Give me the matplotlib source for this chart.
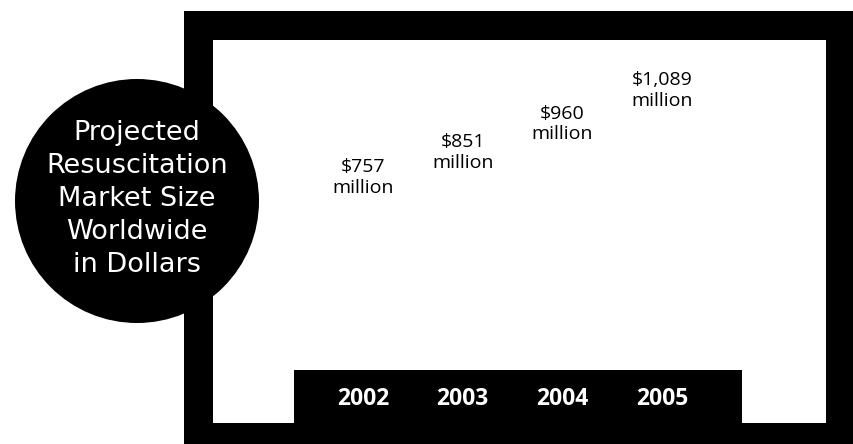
import matplotlib
matplotlib.use("Agg")
import matplotlib.pyplot as plt
from matplotlib.patches import Rectangle, Circle

years = ["2002", "2003", "2004", "2005"]
market_size = [757, 851, 960, 1089]  # millions of dollars
value_labels = ["$757\nmillion", "$851\nmillion", "$960\nmillion", "$1,089\nmillion"]
title = "Projected\nResuscitation\nMarket Size\nWorldwide\nin Dollars"

W, H = 854, 444
fig = plt.figure(figsize=(W / 100, H / 100), dpi=100)

# background layer in pixel coordinates: frame, year band, circle
bg = fig.add_axes([0, 0, 1, 1])
bg.set_xlim(0, W)
bg.set_ylim(H, 0)
bg.axis("off")
bg.add_patch(Rectangle((184, 11), W - 184, H - 11, color="black", lw=0))
bg.add_patch(Rectangle((213, 40), 826 - 213, 423 - 40, color="white", lw=0))
bg.add_patch(Rectangle((294, 370), 742 - 294, 423 - 370, color="black", lw=0))
bg.add_patch(Circle((137, 201), 122, color="black", lw=0, zorder=5))
bg.text(137, 199, title, color="white", fontsize=19.5, family="DejaVu Sans",
        ha="center", va="center", linespacing=1.36, zorder=6)

# data layer: value labels placed by market size, year labels as ticks
ax = fig.add_axes([212 / W, 1 - 375 / H, (826 - 212) / W, (375 - 43) / H])
ax.patch.set_alpha(0)
x = list(range(len(years)))
ax.set_xlim(-1.515, 4.645)
ax.set_ylim(0, 1270)
for xi, v, lab in zip(x, market_size, value_labels):
    ax.text(xi, v, lab, ha="center", va="center", fontsize=14,
            family="Open Sans", linespacing=1.2, color="black")
ax.set_xticks(x, years)
ax.tick_params(axis="x", length=0, pad=8.5, labelcolor="white", labelsize=16.5)
for t in ax.get_xticklabels():
    t.set_fontweight("bold")
    t.set_family("Open Sans")
ax.set_yticks([])
for s in ax.spines.values():
    s.set_visible(False)

fig.savefig("out.png", dpi=100, facecolor="white")
